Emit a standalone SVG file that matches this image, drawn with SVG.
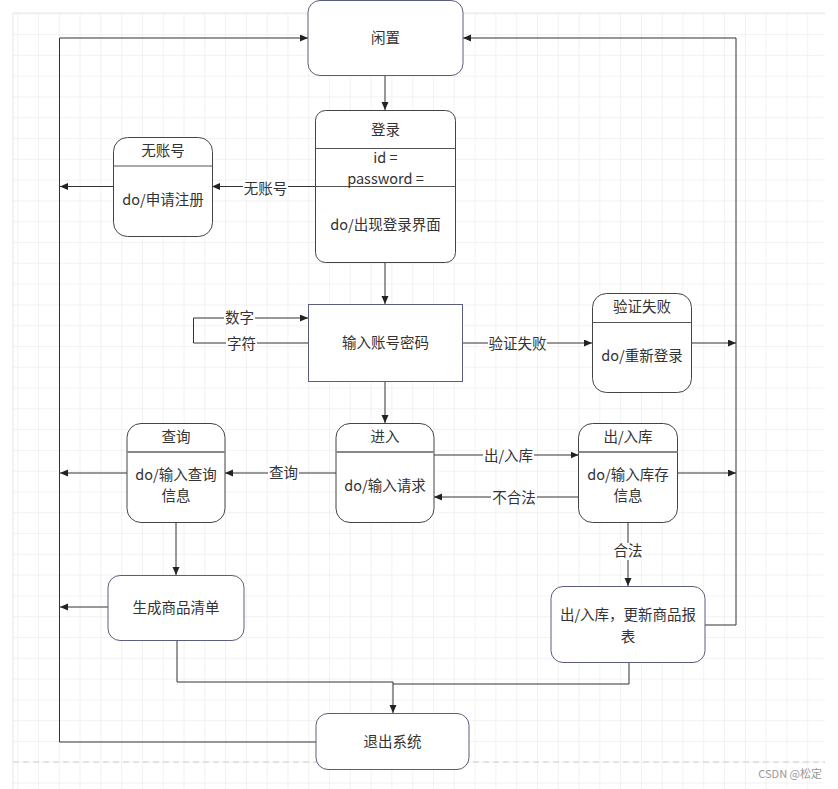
<svg xmlns="http://www.w3.org/2000/svg" width="838" height="789" viewBox="0 0 838 789">
<style>
text{font-family:"Noto Sans CJK SC","Noto Sans",sans-serif;font-size:14.5px;fill:#333;text-anchor:middle}
.st{fill:#fff;stroke:#444;stroke-width:1}
.bx{fill:#fff;stroke:#5a5e7c;stroke-width:1}
.sep{stroke:#555;stroke-width:1}
.sep2{stroke:#888;stroke-width:2}
.c{fill:none;stroke:#333;stroke-width:1}
.ca{fill:none;stroke:#333;stroke-width:1;marker-end:url(#ah)}
.lb{fill:#fff}
</style>
<defs>
<pattern id="grid" x="17.2" y="13.3" width="20.79" height="20.79" patternUnits="userSpaceOnUse">
<path d="M20.79 0 L0 0 L0 20.79" fill="none" stroke="#e6e6e6" stroke-width="1"/>
</pattern>
<marker id="ah" markerUnits="userSpaceOnUse" markerWidth="9" markerHeight="8" refX="8" refY="3.5" orient="auto">
<path d="M0,0 L8,3.5 L0,7 z" fill="#222"/>
</marker>
</defs>
<rect width="838" height="789" fill="#fff"/>
<rect x="13" y="13" width="812" height="776" fill="url(#grid)"/>
<path d="M13 13 H825 M13 13 V789" stroke="#e6e6e6" fill="none"/>
<line x1="13" y1="762" x2="825" y2="762" stroke="#cfcfcf" stroke-dasharray="6 4"/>
<text x="822" y="778" style="font-size:11px;fill:#999;text-anchor:end">CSDN @松定</text>

<g id="connectors">
<path class="ca" d="M385 75.5 V110"/>
<path class="ca" d="M315 186.5 H212"/>
<path class="ca" d="M113 186.5 H60"/>
<path class="ca" d="M385 262 V304"/>
<path class="ca" d="M308 343 H193.5 V318 H308"/>
<path class="ca" d="M462 343 H592"/>
<path class="ca" d="M691 343 H736"/>
<path class="ca" d="M385 381 V423"/>
<path class="ca" d="M434 455 H578.5"/>
<path class="ca" d="M578.5 497 H434"/>
<path class="ca" d="M336 473 H225"/>
<path class="ca" d="M127 473 H60"/>
<path class="ca" d="M677.5 473 H736"/>
<path class="ca" d="M176 522 V575"/>
<path class="ca" d="M108 607 H60"/>
<path class="ca" d="M628 522 V586"/>
<path class="ca" d="M705 625 H736 V38 H463"/>
<path class="ca" d="M177 640 V682 H393 V713"/>
<path class="c" d="M629 662 V684 H393"/>
<path class="ca" d="M316 742 H59.5 V38 H308"/>
<rect class="lb" x="243" y="180" width="45" height="17"/>
<text x="265.5" y="194">无账号</text>
<rect class="lb" x="224" y="310" width="31" height="17"/>
<text x="239.5" y="323">数字</text>
<rect class="lb" x="226" y="336" width="31" height="17"/>
<text x="241.5" y="349">字符</text>
<rect class="lb" x="488" y="335" width="59" height="17"/>
<text x="517.5" y="349">验证失败</text>
<rect class="lb" x="483" y="447" width="51" height="17"/>
<text x="508.5" y="461">出/入库</text>
<rect class="lb" x="491" y="489" width="46" height="17"/>
<text x="514" y="503">不合法</text>
<rect class="lb" x="268" y="465" width="31" height="17"/>
<text x="283.5" y="478">查询</text>
<rect class="lb" x="612" y="543" width="31" height="17"/>
<text x="628" y="556">合法</text>
</g>

<g id="idle">
<rect class="bx" x="308" y="0.5" width="155" height="75" rx="12"/>
<text x="385.5" y="43">闲置</text>
</g>
<g id="login">
<rect class="st" x="315.5" y="110.5" width="140" height="152" rx="10"/>
<line class="sep" x1="315.5" y1="148.5" x2="455.5" y2="148.5"/>
<line class="sep" x1="315.5" y1="186.5" x2="455.5" y2="186.5"/>
<text x="385.5" y="135">登录</text>
<text x="385.5" y="163">id =</text>
<text x="385.5" y="184">password =</text>
<text x="385.5" y="230">do/出现登录界面</text>
</g>
<g id="noaccount">
<rect class="st" x="113.5" y="137.5" width="99" height="99" rx="14"/>
<line class="sep" x1="113.5" y1="166" x2="212.5" y2="166"/>
<text x="163" y="156">无账号</text>
<text x="163" y="205">do/申请注册</text>
</g>
<g id="input">
<rect class="bx" x="308.5" y="304.5" width="154" height="77"/>
<text x="385.5" y="348">输入账号密码</text>
</g>
<g id="fail">
<rect class="st" x="592.5" y="293.5" width="99" height="99" rx="14"/>
<line class="sep" x1="592.5" y1="322.5" x2="691.5" y2="322.5"/>
<text x="642" y="312">验证失败</text>
<text x="642" y="361">do/重新登录</text>
</g>
<g id="enter">
<rect class="st" x="336" y="423.5" width="98" height="99" rx="14"/>
<line class="sep2" x1="336" y1="452" x2="434" y2="452"/>
<text x="385" y="442">进入</text>
<text x="385" y="491">do/输入请求</text>
</g>
<g id="query">
<rect class="st" x="127" y="423.5" width="98" height="99" rx="14"/>
<line class="sep2" x1="127" y1="452" x2="225" y2="452"/>
<text x="176" y="442">查询</text>
<text x="176" y="480">do/输入查询</text>
<text x="176" y="501">信息</text>
</g>
<g id="inout">
<rect class="st" x="578.5" y="423.5" width="99" height="99" rx="14"/>
<line class="sep2" x1="578.5" y1="452" x2="677.5" y2="452"/>
<text x="628" y="442">出/入库</text>
<text x="628" y="480">do/输入库存</text>
<text x="628" y="501">信息</text>
</g>
<g id="list">
<rect class="bx" x="108" y="575.5" width="136" height="65" rx="12"/>
<text x="176" y="613">生成商品清单</text>
</g>
<g id="update">
<rect class="bx" x="551" y="586.5" width="154" height="76" rx="12"/>
<text x="628" y="620">出/入库，更新商品报</text>
<text x="628" y="642">表</text>
</g>
<g id="exit">
<rect class="bx" x="316" y="713.5" width="153" height="56" rx="12"/>
<text x="392.5" y="747">退出系统</text>
</g>
</svg>
